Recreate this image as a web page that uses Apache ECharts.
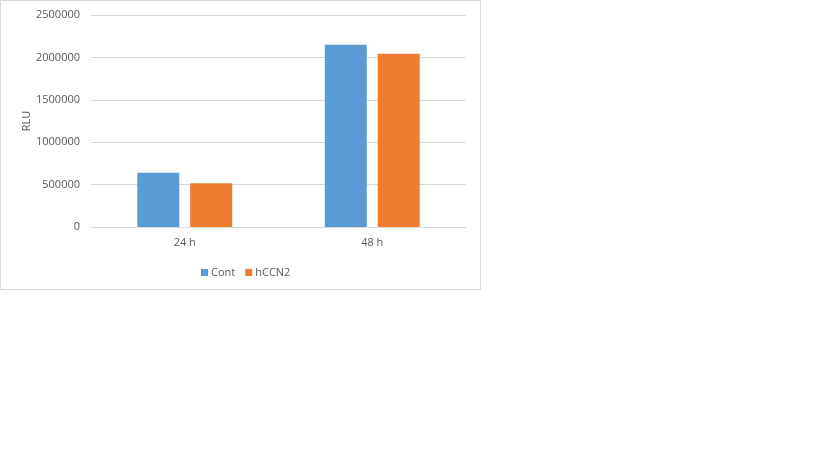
<!DOCTYPE html>
<html>
<head>
<meta charset="utf-8">
<script src="https://cdn.jsdelivr.net/npm/echarts@6/dist/echarts.min.js"></script>
<style>
html,body{margin:0;padding:0;background:#fff;}
#main{width:819px;height:460px;}
</style>
</head>
<body>
<div id="main"></div>
<script>
const categories = ['24 h', '48 h'];
const seriesNames = ['Cont', 'hCCN2'];
const contValues = [640000, 2150000];
const hccn2Values = [515000, 2042000];
const yTicks = [0, 500000, 1000000, 1500000, 2000000, 2500000];

const chart = echarts.init(document.getElementById('main'));
const font = 'Open Sans';
chart.setOption({
  animation: false,
  backgroundColor: '#fff',
  textStyle: { fontFamily: font },
  graphic: [{
    type: 'rect',
    shape: { x: 0.5, y: 0.5, width: 480, height: 289 },
    style: { fill: 'none', stroke: '#d9d9d9', lineWidth: 1 },
    silent: true
  }],
  grid: { left: 91, top: 15, width: 375, height: 212 },
  legend: {
    data: seriesNames,
    left: 196,
    top: 262,
    itemWidth: 7,
    itemHeight: 7,
    itemGap: 10,
    icon: 'rect',
    textStyle: { color: '#595959', fontSize: 11, fontFamily: font, padding: [0, 0, 0, -2] }
  },
  xAxis: {
    type: 'category',
    data: categories,
    axisLine: { lineStyle: { color: '#d9d9d9' } },
    axisTick: { show: false },
    axisLabel: { color: '#595959', fontSize: 11, margin: 10, fontFamily: font }
  },
  yAxis: {
    type: 'value',
    min: yTicks[0],
    max: yTicks[yTicks.length - 1],
    interval: 500000,
    name: 'RLU',
    nameLocation: 'middle',
    nameGap: 58,
    nameTextStyle: { color: '#595959', fontSize: 11, fontFamily: font },
    axisLine: { show: false },
    axisTick: { show: false },
    axisLabel: { color: '#595959', fontSize: 11, margin: 11, fontFamily: font, formatter: v => String(v) },
    splitLine: { lineStyle: { color: '#d9d9d9' } }
  },
  series: [
    { name: seriesNames[0], type: 'bar', data: contValues, barWidth: 42, barGap: '26%', itemStyle: { color: '#5B9BD5' } },
    { name: seriesNames[1], type: 'bar', data: hccn2Values, barWidth: 42, barGap: '26%', itemStyle: { color: '#ED7D31' } }
  ]
});
</script>
</body>
</html>
